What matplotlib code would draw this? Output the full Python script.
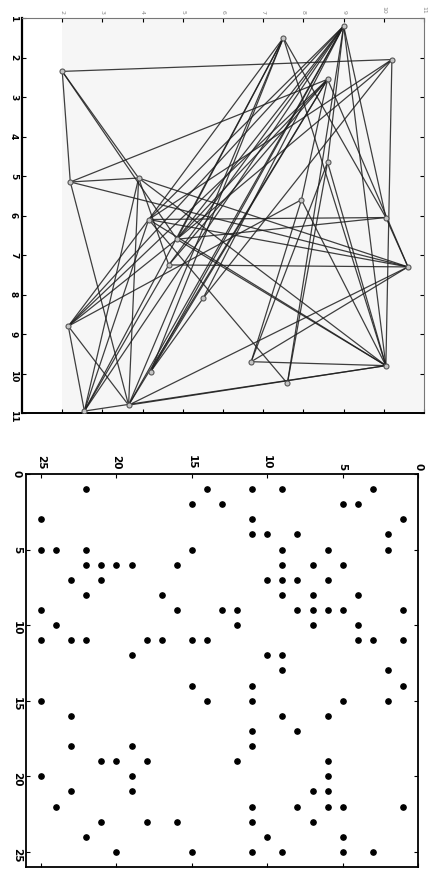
import matplotlib
matplotlib.use("Agg")
import matplotlib.pyplot as plt

# --- top panel: graph (scanned page is rotated 90 deg clockwise) ---
# node positions: u = value on the top axis (2..11), v = value on the left axis (1..11)
node_names = ["A", "B", "C", "D", "E", "F", "G", "H", "I", "J", "K",
              "L", "M", "N", "O", "Q", "R", "S", "T", "U", "V", "W"]
node_u = [9.0, 7.5, 10.2, 2.0, 8.6, 8.6, 2.2, 3.9, 4.15, 7.95, 10.05,
          4.85, 4.65, 10.6, 5.5, 2.15, 6.7, 4.2, 10.05, 7.6, 3.65, 2.55]
node_v = [1.2, 1.5, 2.05, 2.35, 2.55, 4.65, 5.15, 5.05, 6.1, 5.6, 6.05,
          6.6, 7.25, 7.3, 8.1, 8.8, 9.7, 9.95, 9.8, 10.25, 10.8, 10.95]
edges = [("D", "C"), ("D", "G"), ("D", "H"), ("D", "L"),
         ("G", "H"), ("G", "E"), ("G", "N"), ("G", "V"),
         ("H", "M"), ("H", "W"), ("H", "V"), ("H", "T"), ("H", "N"),
         ("I", "T"), ("I", "U"), ("I", "W"), ("I", "Q"), ("I", "A"), ("I", "C"), ("I", "K"),
         ("L", "T"), ("L", "Q"), ("L", "B"), ("L", "E"), ("L", "A"),
         ("M", "N"), ("M", "A"), ("M", "W"), ("M", "E"),
         ("O", "S"), ("O", "A"), ("O", "C"),
         ("R", "T"), ("R", "J"), ("R", "N"),
         ("U", "A"), ("U", "F"),
         ("V", "T"), ("V", "N"), ("V", "Q"), ("V", "A"),
         ("W", "Q"), ("W", "T"), ("W", "B"),
         ("Q", "E"), ("S", "A"), ("S", "B"),
         ("B", "K"), ("B", "T"), ("A", "K"), ("A", "T"), ("A", "F"),
         ("C", "T"), ("K", "N"), ("J", "T"), ("F", "T"), ("E", "N"), ("J", "E"), ("F", "R"),
         ("A", "W"), ("A", "Q"), ("B", "V"), ("E", "S"), ("E", "V"), ("B", "I"),
         ("C", "L"), ("K", "L"), ("J", "Q"), ("I", "N")]
left_ticks_top = list(range(1, 12))
top_ticks_top = list(range(2, 12))

# --- bottom panel: sparsity-style dot plot ---
# dot_row = value on the left axis (0 at top), dot_col = value on the top axis (0 at right)
dot_row = [1, 1, 1, 1, 1,
           2, 2, 2, 2,
           3, 3, 3,
           4, 4, 4, 4,
           5, 5, 5, 5, 5, 5, 5,
           6, 6, 6, 6, 6, 6, 6, 6,
           7, 7, 7, 7, 7, 7,
           8, 8, 8, 8, 8,
           9, 9, 9, 9, 9, 9, 9, 9, 9,
           10, 10, 10, 10,
           11, 11, 11, 11, 11, 11, 11, 11, 11, 11,
           12, 12, 12,
           13, 13,
           14, 14, 14,
           15, 15, 15, 15, 15,
           16, 16, 16,
           17, 17,
           18, 18, 18,
           19, 19, 19, 19, 19,
           20, 20, 20,
           21, 21, 21, 21,
           22, 22, 22, 22, 22, 22,
           23, 23, 23, 23, 23,
           24, 24, 24,
           25, 25, 25, 25, 25, 25]
dot_col = [22, 14, 11, 9, 3,
           15, 13, 5, 4,
           25, 11, 1,
           11, 10, 8, 2,
           25, 24, 22, 15, 9, 6, 2,
           22, 21, 20, 19, 16, 9, 7, 5,
           23, 21, 10, 9, 8, 6,
           22, 17, 9, 7, 4,
           25, 16, 13, 12, 8, 7, 6, 5, 1,
           24, 12, 7, 4,
           25, 23, 22, 18, 17, 15, 14, 4, 3, 1,
           19, 10, 9,
           9, 2,
           15, 11, 1,
           25, 14, 11, 5, 2,
           23, 9, 6,
           11, 8,
           23, 19, 11,
           21, 20, 18, 12, 6,
           25, 19, 6,
           23, 19, 7, 6,
           24, 11, 8, 6, 5, 1,
           21, 18, 16, 11, 7,
           22, 10, 5,
           20, 15, 11, 9, 5, 3]
bottom_ticks = [0, 5, 10, 15, 20, 25]

fig = plt.figure(figsize=(4.41, 8.69), dpi=100)

# top panel
ax1 = fig.add_axes([0.050, 0.5247, 0.9116, 0.4545])
ax1.axvspan(2.0, 11.2, color="#f6f6f6", zorder=0, lw=0)
pos = {n: (u, v) for n, u, v in zip(node_names, node_u, node_v)}
for a, b in edges:
    ax1.plot([pos[a][0], pos[b][0]], [pos[a][1], pos[b][1]],
             color="#1e1e1e", lw=0.9, alpha=0.85, zorder=2)
ax1.plot(node_u, node_v, "o", ms=3.6, mfc="#c4c4c4", mec="#555555", mew=0.8, zorder=3)
ax1.set_xlim(1, 11)
ax1.set_ylim(11, 1)
ax1.set_yticks(left_ticks_top)
ax1.set_yticklabels([str(t) for t in left_ticks_top], rotation=-90,
                    fontsize=6.5, fontweight="bold")
ax1.set_xticks(top_ticks_top)
ax1.set_xticklabels([str(t) for t in top_ticks_top], rotation=-90,
                    fontsize=4.5, color="#888888")
ax1.xaxis.tick_top()
ax1.tick_params(direction="in", length=3, width=0.8, top=True, bottom=True,
                left=True, right=True, pad=3)
ax1.spines["left"].set_linewidth(1.6)
ax1.spines["bottom"].set_linewidth(1.4)
ax1.spines["top"].set_color("#777777")
ax1.spines["right"].set_color("#777777")

# bottom panel
ax2 = fig.add_axes([0.059, 0.0023, 0.889, 0.4523])
ax2.plot(dot_col, dot_row, "o", ms=3.8, color="black", zorder=3)
ax2.set_xlim(26, 0)
ax2.set_ylim(26, 0)
ax2.set_xticks(bottom_ticks)
ax2.set_xticklabels([str(t) for t in bottom_ticks], rotation=-90,
                    fontsize=7.5, fontweight="bold")
ax2.set_yticks(bottom_ticks)
ax2.set_yticklabels([str(t) for t in bottom_ticks], rotation=-90,
                    fontsize=7.5, fontweight="bold")
ax2.xaxis.tick_top()
ax2.tick_params(direction="in", length=3, width=0.8, top=True, bottom=True,
                left=True, right=True, pad=3)
for s in ax2.spines.values():
    s.set_linewidth(1.3)

fig.savefig("out.png", dpi=100)
